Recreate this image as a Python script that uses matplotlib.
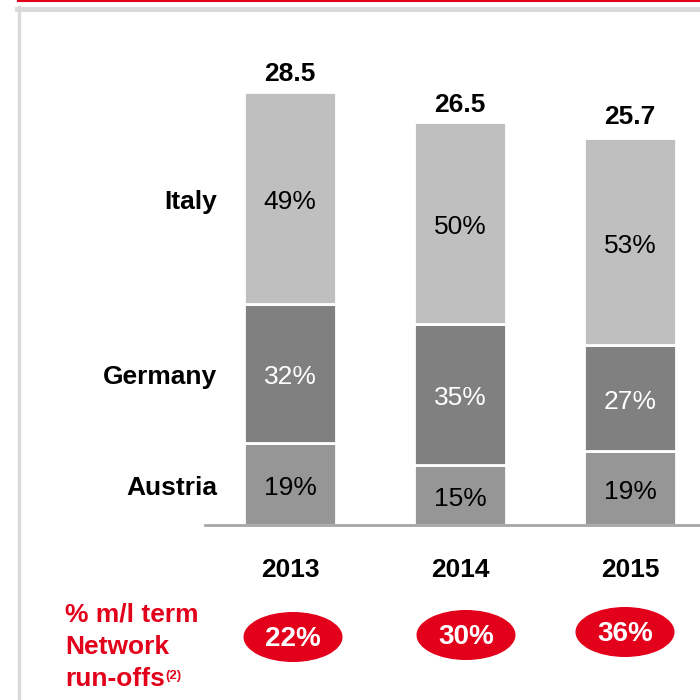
import matplotlib
matplotlib.use("Agg")
import matplotlib.pyplot as plt
from matplotlib.patches import Ellipse
from matplotlib.lines import Line2D

plt.rcParams['font.family'] = ['Liberation Sans', 'DejaVu Sans']

# data
years = ["2013", "2014", "2015"]
totals = [28.5, 26.5, 25.7]
countries = ["Austria", "Germany", "Italy"]
austria_pct = [19, 15, 19]
germany_pct = [32, 35, 27]
italy_pct = [49, 50, 53]
runoffs = ["22%", "30%", "36%"]

colors = {"Austria": "#969696", "Germany": "#808080", "Italy": "#bfbfbf"}
text_colors = {"Austria": "black", "Germany": "white", "Italy": "black"}
red = "#e2001a"
fs = 19

fig = plt.figure(figsize=(7, 7), dpi=100)
ax = fig.add_axes([0, 0, 1, 1])
ax.set_xlim(-290 / 170, 410 / 170)
px = 433 / 28.5  # pixels per unit
ax.set_ylim(-175 / px, 525 / px)
ax.axis("off")
dy = 4 / px  # nudge labels down a little

x = list(range(len(years)))
shares = {"Austria": austria_pct, "Germany": germany_pct, "Italy": italy_pct}
bottom = [0.0] * len(years)
for c in countries:
    vals = [t * p / 100 for t, p in zip(totals, shares[c])]
    ax.bar(x, vals, bottom=bottom, width=92 / 170, color=colors[c],
           edgecolor="white", linewidth=2, zorder=2)
    for i in x:
        ax.text(i, bottom[i] + vals[i] / 2 - dy, f"{shares[c][i]}%",
                ha="center", va="center", fontsize=fs, color=text_colors[c])
    ax.text(-0.43, bottom[0] + vals[0] / 2 - dy, c, ha="right", va="center",
            fontsize=fs, fontweight="bold")
    bottom = [b + v for b, v in zip(bottom, vals)]

for i in x:
    ax.text(i, totals[i] + 1.35 - 3 / px, f"{totals[i]}", ha="center",
            va="center", fontsize=fs, fontweight="bold")
    ax.text(i, -45 / px, years[i], ha="center", va="center",
            fontsize=fs, fontweight="bold")

# baseline
ax.plot([-0.5, 3], [0, 0], color="#a6a6a6", lw=2, zorder=3, clip_on=False)

# run-off ellipses
ell_x = [3 / 170, 6 / 170, -5 / 170]
ell_y = [-112 / px, -110 / px, -107 / px]
for i in x:
    ax.add_patch(Ellipse((i + ell_x[i], ell_y[i]), 99 / 170, 50 / px,
                         facecolor=red, edgecolor="none"))
    ax.text(i + ell_x[i], ell_y[i] - 2 / px, runoffs[i], ha="center",
            va="center", fontsize=fs + 1, fontweight="bold", color="white")

fig.text(65 / 700, 1 - 614 / 700, "% m/l term", ha="left", va="center",
         fontsize=fs, fontweight="bold", color=red)
fig.text(65 / 700, 1 - 647 / 700, "Network", ha="left", va="center",
         fontsize=fs, fontweight="bold", color=red)
t = fig.text(65 / 700, 1 - 679 / 700, "run-offs", ha="left", va="center",
             fontsize=fs, fontweight="bold", color=red)
fig.canvas.draw()
bb = t.get_window_extent()
fig.text(bb.x1 / 700 + 0.001, 1 - 676 / 700, "(2)", ha="left", va="center",
         fontsize=9.5, fontweight="bold", color=red)

# frame
fig.add_artist(Line2D([18 / 700, 1], [1 - 1 / 700, 1 - 1 / 700],
                      color=red, lw=1.5))
fig.add_artist(Line2D([17 / 700, 1], [1 - 8.5 / 700, 1 - 8.5 / 700],
                      color="#d9d9d9", lw=3.5))
fig.add_artist(Line2D([18.5 / 700, 18.5 / 700], [0, 1 - 7 / 700],
                      color="#d9d9d9", lw=2.5))

fig.savefig("out.png", dpi=100, facecolor="white")
